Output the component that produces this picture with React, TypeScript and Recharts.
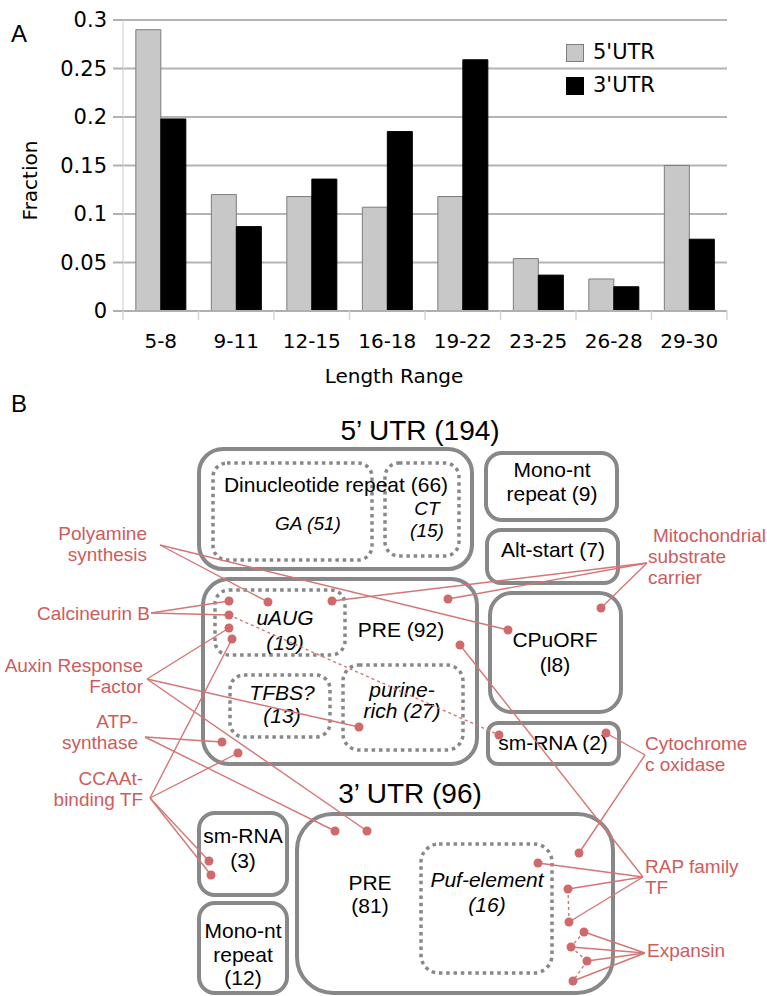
import React from "react";
import { BarChart, Bar, XAxis, YAxis, CartesianGrid, Legend } from "recharts";

// Panel A: motif length distribution
const LENGTH_RANGES = ["5-8", "9-11", "12-15", "16-18", "19-22", "23-25", "26-28", "29-30"];
const SERIES_NAMES = ["5'UTR", "3'UTR"];
const UTR5_FRACTION = [0.29, 0.12, 0.118, 0.107, 0.118, 0.054, 0.033, 0.15];
const UTR3_FRACTION = [0.198, 0.087, 0.136, 0.185, 0.259, 0.037, 0.025, 0.074];
const FRACTION_TICKS = [0, 0.05, 0.1, 0.15, 0.2, 0.25, 0.3];

const chartData = LENGTH_RANGES.map((range, i) => ({
  range,
  utr5: UTR5_FRACTION[i],
  utr3: UTR3_FRACTION[i],
}));

const AXIS_FONT = "'DejaVu Sans', 'Liberation Sans', Arial, sans-serif";
const DIAGRAM_FONT = "'Liberation Sans', Arial, Helvetica, sans-serif";
const RED_TEXT = "#cd5c5c";
const RED_LINE = "#d67575";
const BOX_GRAY = "#888888";

function LegendList({ payload }: any) {
  if (!payload?.length) return null;
  const items = [...payload].sort(
    (a: any, b: any) => SERIES_NAMES.indexOf(a.value) - SERIES_NAMES.indexOf(b.value)
  );
  return (
    <div style={{ fontFamily: AXIS_FONT, fontSize: 21 }}>
      {items.map((entry: any) => (
        <div
          key={entry.value}
          style={{ display: "flex", alignItems: "center", height: 33 }}
        >
          <span
            style={{
              width: 16,
              height: 16,
              background: entry.color,
              border: `1px solid ${entry.color === "#000000" ? "#000" : "#7c7c7c"}`,
              marginRight: 9,
            }}
          />
          <span style={{ color: "#000", lineHeight: 1 }}>{entry.value}</span>
        </div>
      ))}
    </div>
  );
}

// Category label plus short tick marks on the bin boundaries
function RangeTick({ x, y, payload, index }: any) {
  const half = payload.offset ?? 0;
  const mark = (mx: number) => (
    <line x1={mx} y1={y} x2={mx} y2={y + 9} stroke="#d6d6d6" strokeWidth={1.5} />
  );
  return (
    <g>
      {mark(x - half)}
      {index === LENGTH_RANGES.length - 1 && mark(x + half)}
      <text
        x={x}
        y={y + 37}
        textAnchor="middle"
        fontFamily={AXIS_FONT}
        fontSize={20}
        fill="#000"
      >
        {payload.value}
      </text>
    </g>
  );
}

function LengthChart() {
  return (
    <BarChart
      width={767}
      height={400}
      data={chartData}
      margin={{ top: 20, right: 40, left: 0, bottom: 0 }}
      barCategoryGap="17%"
      barGap={0}
    >
      <CartesianGrid vertical={false} stroke="#b4b4b4" strokeWidth={2} />
      <XAxis
        dataKey="range"
        height={89}
        tickSize={0}
        tickMargin={0}
        tickLine={false}
        axisLine={{ stroke: "#b0b0b0", strokeWidth: 2 }}
        tick={<RangeTick />}
        interval={0}
        label={{
          content: ({ viewBox }: any) => (
            <text
              x={viewBox.x + viewBox.width / 2 - 31}
              y={viewBox.y + 72}
              textAnchor="middle"
              fontFamily={AXIS_FONT}
              fontSize={20}
              fill="#000"
            >
              Length Range
            </text>
          ),
        }}
      />
      <YAxis
        width={123}
        domain={[0, 0.3]}
        ticks={FRACTION_TICKS}
        tickFormatter={(v: number) => String(v)}
        tickSize={10}
        tickMargin={6}
        tickLine={{ stroke: "#b0b0b0", strokeWidth: 2 }}
        axisLine={{ stroke: "#dcdcdc", strokeWidth: 1.5 }}
        tick={{ fill: "#000", fontSize: 21, fontFamily: AXIS_FONT }}
        label={{
          content: ({ viewBox }: any) => {
            const cx = viewBox.x + 30;
            const cy = viewBox.y + viewBox.height / 2 + 15;
            return (
              <text
                x={cx}
                y={cy}
                transform={`rotate(-90, ${cx}, ${cy})`}
                textAnchor="middle"
                dominantBaseline="central"
                fontFamily={AXIS_FONT}
                fontSize={20}
                fill="#000"
              >
                Fraction
              </text>
            );
          },
        }}
      />
      <Legend
        layout="vertical"
        verticalAlign="middle"
        align="center"
        content={<LegendList />}
        wrapperStyle={{ top: 36, left: 566, width: "auto" }}
      />
      <Bar
        dataKey="utr5"
        name={SERIES_NAMES[0]}
        fill="#c8c8c8"
        stroke="#7c7c7c"
        strokeWidth={1}
        isAnimationActive={false}
      />
      <Bar
        dataKey="utr3"
        name={SERIES_NAMES[1]}
        fill="#000000"
        stroke="#000000"
        strokeWidth={1}
        isAnimationActive={false}
      />
    </BarChart>
  );
}

// Panel B: overlap diagram of UTR sequence features
type Box = { x: number; y: number; w: number; h: number; r: number };

const OUTLINE_BOXES: Box[] = [
  { x: 199, y: 449, w: 273, h: 120, r: 24 }, // dinucleotide repeat
  { x: 486, y: 453, w: 131, h: 67, r: 16 }, // mono-nt repeat (9)
  { x: 487, y: 530, w: 131, h: 53, r: 14 }, // alt-start
  { x: 203, y: 579, w: 274, h: 185, r: 26 }, // PRE (92)
  { x: 490, y: 593, w: 131, h: 119, r: 22 }, // CPuORF
  { x: 488, y: 723, w: 131, h: 41, r: 10 }, // sm-RNA (2)
  { x: 199, y: 813, w: 88, h: 82, r: 16 }, // sm-RNA (3)
  { x: 199, y: 903, w: 88, h: 90, r: 16 }, // mono-nt repeat (12)
  { x: 297, y: 814, w: 316, h: 179, r: 36 }, // PRE (81)
];

const DASHED_BOXES: Box[] = [
  { x: 213, y: 463, w: 159, h: 97, r: 14 }, // GA
  { x: 385, y: 463, w: 74, h: 93, r: 14 }, // CT
  { x: 215, y: 590, w: 130, h: 65, r: 14 }, // uAUG
  { x: 230, y: 675, w: 100, h: 62, r: 14 }, // TFBS?
  { x: 343, y: 665, w: 120, h: 85, r: 16 }, // purine-rich
  { x: 421, y: 844, w: 131, h: 129, r: 18 }, // Puf-element
];

type Caption = { text: string; x: number; y: number; size?: number; italic?: boolean };

const CAPTIONS: Caption[] = [
  { text: "5\u2019 UTR (194)", x: 420, y: 440, size: 28 },
  { text: "Dinucleotide repeat (66)", x: 336, y: 492 },
  { text: "GA (51)", x: 308, y: 530, size: 19, italic: true },
  { text: "CT", x: 427, y: 515, size: 19, italic: true },
  { text: "(15)", x: 427, y: 537, size: 19, italic: true },
  { text: "Mono-nt", x: 552, y: 477 },
  { text: "repeat (9)", x: 552, y: 501 },
  { text: "Alt-start (7)", x: 553, y: 557 },
  { text: "uAUG", x: 285, y: 625, italic: true },
  { text: "(19)", x: 285, y: 650, italic: true },
  { text: "PRE (92)", x: 401, y: 637 },
  { text: "CPuORF", x: 555, y: 647 },
  { text: "(l8)", x: 555, y: 672 },
  { text: "TFBS?", x: 282, y: 700, italic: true },
  { text: "(13)", x: 282, y: 723, italic: true },
  { text: "purine-", x: 402, y: 697, italic: true },
  { text: "rich (27)", x: 402, y: 718, italic: true },
  { text: "sm-RNA (2)", x: 553, y: 750 },
  { text: "3\u2019 UTR (96)", x: 410, y: 803, size: 28 },
  { text: "sm-RNA", x: 243, y: 843 },
  { text: "(3)", x: 243, y: 868 },
  { text: "Mono-nt", x: 243, y: 938 },
  { text: "repeat", x: 243, y: 962 },
  { text: "(12)", x: 243, y: 985 },
  { text: "PRE", x: 370, y: 890 },
  { text: "(81)", x: 370, y: 913 },
  { text: "Puf-element", x: 487, y: 887, italic: true },
  { text: "(16)", x: 487, y: 912, italic: true },
];

const SITES: Record<string, [number, number]> = {
  calc1: [229, 601],
  calc2: [229, 615],
  aux1: [229, 628],
  ccaat1: [232, 639],
  poly1: [268, 602],
  mito1: [332, 601],
  mito2: [448, 599],
  poly2: [508, 630],
  mito3: [601, 608],
  rap1: [460, 645],
  aux2: [359, 727],
  atp1: [222, 742],
  ccaat2: [238, 753],
  atp2: [335, 831],
  aux3: [367, 831],
  ccaat3: [209, 861],
  ccaat4: [211, 875],
  smrna: [499, 735],
  cyto1: [606, 733],
  cyto2: [579, 853],
  rap2: [538, 863],
  rap3: [568, 889],
  rap4: [569, 922],
  exp1: [584, 932],
  exp2: [571, 947],
  exp3: [587, 961],
  exp4: [573, 981],
};

type Annotation = {
  lines: string[];
  x: number;
  y: number;
  anchor: "start" | "end";
  hub: [number, number];
  targets: string[];
  xs?: number[];
};

const ANNOTATIONS: Annotation[] = [
  { lines: ["Polyamine", "synthesis"], x: 147, y: 540, anchor: "end", hub: [160, 545], targets: ["poly1", "poly2"] },
  { lines: ["Calcineurin B"], x: 150, y: 620, anchor: "end", hub: [151, 613], targets: ["calc1", "calc2"] },
  { lines: ["Auxin Response", "Factor"], x: 143, y: 672, anchor: "end", hub: [147, 679], targets: ["aux1", "aux2", "aux3"] },
  { lines: ["ATP-", "synthase"], x: 138, y: 728, anchor: "end", hub: [145, 737], targets: ["atp1", "atp2"] },
  { lines: ["CCAAt-", "binding TF"], x: 143, y: 785, anchor: "end", hub: [150, 798], targets: ["ccaat1", "ccaat2", "ccaat3", "ccaat4"] },
  { lines: ["Mitochondrial", "substrate", "carrier"], x: 648, y: 542, xs: [653, 648, 648], anchor: "start", hub: [647, 563], targets: ["mito1", "mito2", "mito3"] },
  { lines: ["Cytochrome", "c oxidase"], x: 645, y: 750, anchor: "start", hub: [645, 755], targets: ["cyto1", "cyto2"] },
  { lines: ["RAP family", "TF"], x: 645, y: 873, anchor: "start", hub: [643, 877], targets: ["rap1", "rap2", "rap3", "rap4"] },
  { lines: ["Expansin"], x: 647, y: 957, anchor: "start", hub: [645, 953], targets: ["exp1", "exp2", "exp3", "exp4"] },
];

const DASHED_LINKS: [string, string][] = [
  ["calc2", "smrna"],
  ["rap3", "rap4"],
  ["exp1", "exp2"],
  ["exp2", "exp3"],
  ["exp3", "exp4"],
];

function FeatureDiagram() {
  return (
    <svg
      width={767}
      height={996}
      style={{ position: "absolute", left: 0, top: 0, pointerEvents: "none" }}
    >
      <g fontFamily={DIAGRAM_FONT}>
        <text x={11} y={42} fontSize={24} fill="#000">A</text>
        <text x={11} y={412} fontSize={24} fill="#000">B</text>

        {OUTLINE_BOXES.map((b, i) => (
          <rect
            key={`o${i}`}
            x={b.x}
            y={b.y}
            width={b.w}
            height={b.h}
            rx={b.r}
            fill="none"
            stroke={BOX_GRAY}
            strokeWidth={4}
          />
        ))}
        {DASHED_BOXES.map((b, i) => (
          <rect
            key={`d${i}`}
            x={b.x}
            y={b.y}
            width={b.w}
            height={b.h}
            rx={b.r}
            fill="none"
            stroke={BOX_GRAY}
            strokeWidth={3.5}
            strokeDasharray="3.5 3.8"
          />
        ))}
        {CAPTIONS.map((c, i) => (
          <text
            key={`c${i}`}
            x={c.x}
            y={c.y}
            textAnchor="middle"
            fontSize={c.size ?? 21}
            fontStyle={c.italic ? "italic" : "normal"}
            fill="#000"
          >
            {c.text}
          </text>
        ))}

        {ANNOTATIONS.map((a, i) => (
          <g key={`a${i}`}>
            {a.targets.map((t) => (
              <line
                key={t}
                x1={a.hub[0]}
                y1={a.hub[1]}
                x2={SITES[t][0]}
                y2={SITES[t][1]}
                stroke={RED_LINE}
                strokeWidth={1.4}
              />
            ))}
            {a.lines.map((line, j) => (
              <text
                key={line}
                x={a.xs ? a.xs[j] : a.x}
                y={a.y + j * 21}
                textAnchor={a.anchor}
                fontSize={19}
                fill={RED_TEXT}
              >
                {line}
              </text>
            ))}
          </g>
        ))}
        {DASHED_LINKS.map(([p, q]) => (
          <line
            key={`${p}-${q}`}
            x1={SITES[p][0]}
            y1={SITES[p][1]}
            x2={SITES[q][0]}
            y2={SITES[q][1]}
            stroke={RED_LINE}
            strokeWidth={1.4}
            strokeDasharray="3 3"
          />
        ))}
        {Object.entries(SITES).map(([k, [x, y]]) => (
          <circle key={k} cx={x} cy={y} r={4.5} fill="#d06a6a" />
        ))}
      </g>
    </svg>
  );
}

export default function App() {
  return (
    <div
      style={{
        position: "absolute",
        left: 0,
        top: 0,
        width: 767,
        height: 996,
        background: "#fff",
      }}
    >
      <LengthChart />
      <FeatureDiagram />
    </div>
  );
}
